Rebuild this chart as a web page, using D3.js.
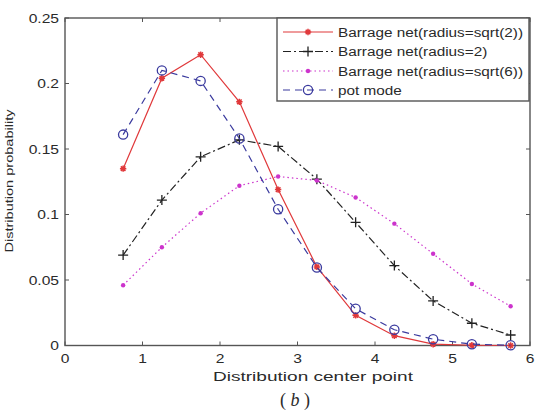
<!DOCTYPE html>
<html><head><meta charset="utf-8">
<script src="https://cdn.jsdelivr.net/npm/d3@7"></script>
<style>body{margin:0;background:#fff}svg{display:block}text{font-family:"Liberation Sans",Arial,sans-serif;fill:#2a2a2a}</style>
</head><body>
<svg id="c" width="536" height="412"></svg>
<script>
const xs = [0.75,1.25,1.75,2.25,2.75,3.25,3.75,4.25,4.75,5.25,5.75];
const seriesNames = ["Barrage net(radius=sqrt(2))","Barrage net(radius=2)","Barrage net(radius=sqrt(6))","pot mode"];
const sqrt2Vals = [0.135,0.204,0.222,0.186,0.119,0.060,0.023,0.0075,0.001,0.0002,0.0];
const r2Vals    = [0.069,0.111,0.144,0.157,0.152,0.127,0.094,0.061,0.034,0.017,0.008];
const sqrt6Vals = [0.046,0.075,0.101,0.122,0.129,0.126,0.113,0.093,0.070,0.047,0.030];
const potVals   = [0.161,0.210,0.202,0.158,0.104,0.0595,0.028,0.012,0.0048,0.001,0.0002];
const xTicks = [0,1,2,3,4,5,6];
const yTicks = [0,0.05,0.1,0.15,0.2,0.25];
const yTickLabels = ["0","0.05","0.1","0.15","0.2","0.25"];

const svg = d3.select("#c");
const L=65, R=530, T=18, B=345.5;
const x = d3.scaleLinear().domain([0,6]).range([L,R]);
const y = d3.scaleLinear().domain([0,0.25]).range([B,T]);

const styles = [
  {vals:sqrt2Vals, color:"#e0393b", dash:null, marker:"star"},
  {vals:r2Vals, color:"#222", dash:"8,3,2,3", marker:"plus"},
  {vals:sqrt6Vals, color:"#cc33cc", dash:"1.5,3", marker:"dot"},
  {vals:potVals, color:"#3a3a9e", dash:"7,5", marker:"circle"}
];

function drawMarker(g, type, cx, cy, color){
  if(type==="star"){
    const s=3.2, d=2.3;
    g.append("path").attr("d",`M${cx-s},${cy}L${cx+s},${cy}M${cx},${cy-s}L${cx},${cy+s}M${cx-d},${cy-d}L${cx+d},${cy+d}M${cx-d},${cy+d}L${cx+d},${cy-d}`)
     .attr("stroke",color).attr("stroke-width",1.5).attr("fill","none");
    g.append("circle").attr("cx",cx).attr("cy",cy).attr("r",1.6).attr("fill",color);
  } else if(type==="plus"){
    const s=5;
    g.append("path").attr("d",`M${cx-s},${cy}L${cx+s},${cy}M${cx},${cy-s}L${cx},${cy+s}`)
     .attr("stroke",color).attr("stroke-width",1.3).attr("fill","none");
  } else if(type==="dot"){
    g.append("circle").attr("cx",cx).attr("cy",cy).attr("r",2.2).attr("fill",color);
  } else if(type==="circle"){
    g.append("circle").attr("cx",cx).attr("cy",cy).attr("r",4.6).attr("fill","none").attr("stroke",color).attr("stroke-width",1.3);
  }
}

// axes box
const ax = svg.append("g");
ax.append("rect").attr("x",L).attr("y",T).attr("width",R-L).attr("height",B-T)
  .attr("fill","none").attr("stroke","#555").attr("stroke-width",1.4);
xTicks.forEach(t=>{
  ax.append("line").attr("x1",x(t)).attr("x2",x(t)).attr("y1",B).attr("y2",B-4).attr("stroke","#555");
  ax.append("line").attr("x1",x(t)).attr("x2",x(t)).attr("y1",T).attr("y2",T+4).attr("stroke","#555");
  ax.append("text").attr("x",x(t)).attr("y",363).attr("text-anchor","middle").attr("font-size",13)
    .attr("class","tl").text(t);
});
yTicks.forEach((t,i)=>{
  ax.append("line").attr("y1",y(t)).attr("y2",y(t)).attr("x1",L).attr("x2",L+4).attr("stroke","#555");
  ax.append("line").attr("y1",y(t)).attr("y2",y(t)).attr("x1",R).attr("x2",R-4).attr("stroke","#555");
  ax.append("text").attr("x",59).attr("y",y(t)+4.5).attr("text-anchor","end").attr("font-size",13)
    .attr("class","tl").text(yTickLabels[i]);
});
ax.selectAll("text.tl").each(function(){
  const w=this.getComputedTextLength();
  d3.select(this).attr("textLength",w*1.2).attr("lengthAdjust","spacingAndGlyphs");
});

// series
const line = d3.line().x((d,i)=>x(xs[i])).y(d=>y(d));
styles.forEach(s=>{
  const g=svg.append("g");
  const p=g.append("path").attr("d",line(s.vals)).attr("fill","none").attr("stroke",s.color).attr("stroke-width",1.2);
  if(s.dash) p.attr("stroke-dasharray",s.dash);
  s.vals.forEach((v,i)=>drawMarker(g,s.marker,x(xs[i]),y(v),s.color));
});

// legend
const lg = svg.append("g");
lg.append("rect").attr("x",277).attr("y",T).attr("width",252).attr("height",83)
  .attr("fill","#fff").attr("stroke","#555").attr("stroke-width",1.4);
const rowY=[32,51.5,71,90];
const texts=[];
styles.forEach((s,i)=>{
  const yy=rowY[i];
  const p=lg.append("line").attr("x1",283).attr("x2",333).attr("y1",yy).attr("y2",yy).attr("stroke",s.color).attr("stroke-width",1.2);
  if(s.dash) p.attr("stroke-dasharray",s.dash);
  drawMarker(lg,s.marker,308,yy,s.color);
  texts.push(lg.append("text").attr("x",338).attr("y",yy+4.5).attr("font-size",12).text(seriesNames[i]));
});
const k = 185/texts[0].node().getComputedTextLength();
texts.forEach(t=>{
  t.attr("textLength",t.node().getComputedTextLength()*k).attr("lengthAdjust","spacingAndGlyphs");
});

// titles
svg.append("text").attr("x",313).attr("y",381).attr("text-anchor","middle").attr("font-size",12)
  .attr("textLength",200).attr("lengthAdjust","spacingAndGlyphs").text("Distribution center point");
svg.append("text").attr("transform","translate(13,181) rotate(-90)").attr("text-anchor","middle").attr("font-size",10.5)
  .attr("textLength",143).attr("lengthAdjust","spacingAndGlyphs").text("Distribution probability");
const cap = svg.append("text").attr("x",295).attr("y",406).attr("text-anchor","middle")
  .attr("font-size",18).style("font-family","'Liberation Serif',serif");
cap.append("tspan").text("( ");
cap.append("tspan").attr("font-style","italic").text("b");
cap.append("tspan").text(" )");
</script>
</body></html>
